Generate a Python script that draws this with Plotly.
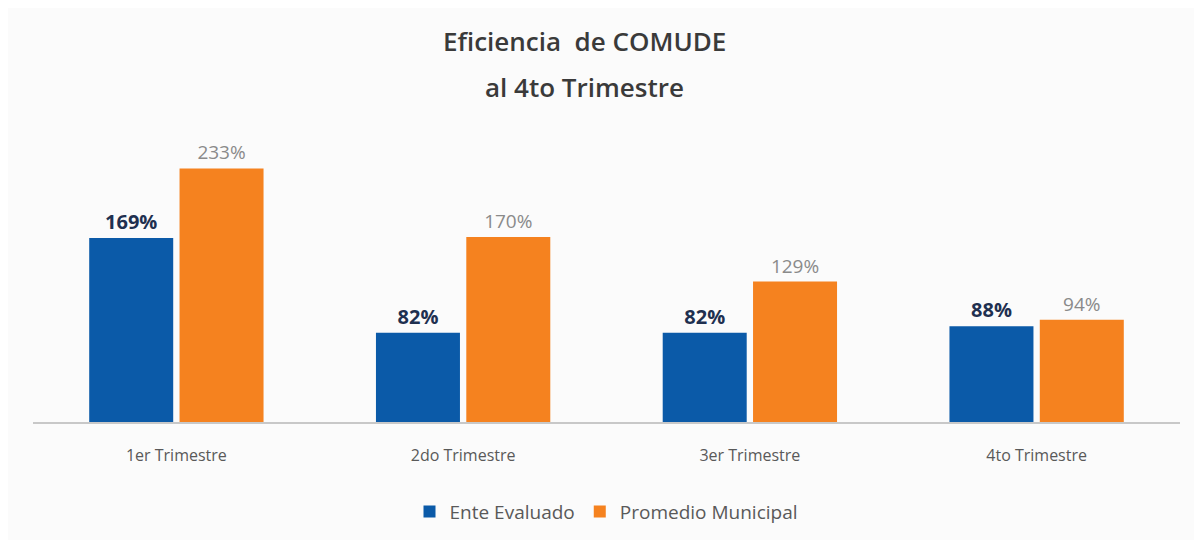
import plotly.graph_objects as go

categories = ["1er Trimestre", "2do Trimestre", "3er Trimestre", "4to Trimestre"]
ente_evaluado = [169, 82, 82, 88]
promedio_municipal = [233, 170, 129, 94]

blue = "#0b5aa8"
orange = "#f5821f"
font_family = "Open Sans, Noto Sans, sans-serif"

fig = go.Figure()
fig.add_trace(go.Bar(
    x=categories, y=ente_evaluado, name="Ente Evaluado",
    marker=dict(color=blue, line=dict(width=0)),
    text=[f"{v}%" for v in ente_evaluado], textposition="outside",
    textfont=dict(color="#1f3050", size=20, family=font_family, weight="bold"),
    cliponaxis=False,
))
fig.add_trace(go.Bar(
    x=categories, y=promedio_municipal, name="Promedio Municipal",
    marker=dict(color=orange, line=dict(width=0)),
    text=[f"{v}%" for v in promedio_municipal], textposition="outside",
    textfont=dict(color="#8a8a8a", size=19, family=font_family),
    cliponaxis=False,
))

fig.update_layout(
    width=1186, height=532,
    paper_bgcolor="#fbfbfb", plot_bgcolor="#fbfbfb",
    margin=dict(l=25, r=14, t=131, b=118, autoexpand=False),
    barmode="group", bargap=0.37, bargroupgap=0.07,
    font=dict(family=font_family, color="#595959"),
    showlegend=True,
    legend=dict(orientation="h", x=0.5, xanchor="center", y=-0.25, yanchor="top",
                font=dict(size=19, color="#595959"), itemwidth=30,
                traceorder="normal"),
    annotations=[
        dict(text="Eficiencia  de COMUDE", xref="paper", yref="paper",
             x=0.481, y=1.0, yshift=118, showarrow=False,
             font=dict(size=26, color="#3a3a3a", family=font_family, weight=600)),
        dict(text="al 4to Trimestre", xref="paper", yref="paper",
             x=0.481, y=1.0, yshift=72, showarrow=False,
             font=dict(size=26, color="#3a3a3a", family=font_family, weight=600)),
    ],
)
fig.update_xaxes(showline=True, linecolor="#c8c8c8", linewidth=1.5, showgrid=False,
                 ticks="", ticklabelstandoff=18,
                 tickfont=dict(size=16, color="#595959"))
fig.update_yaxes(range=[0, 260], visible=False, showgrid=False, zeroline=False)

fig.write_html("out.html")
